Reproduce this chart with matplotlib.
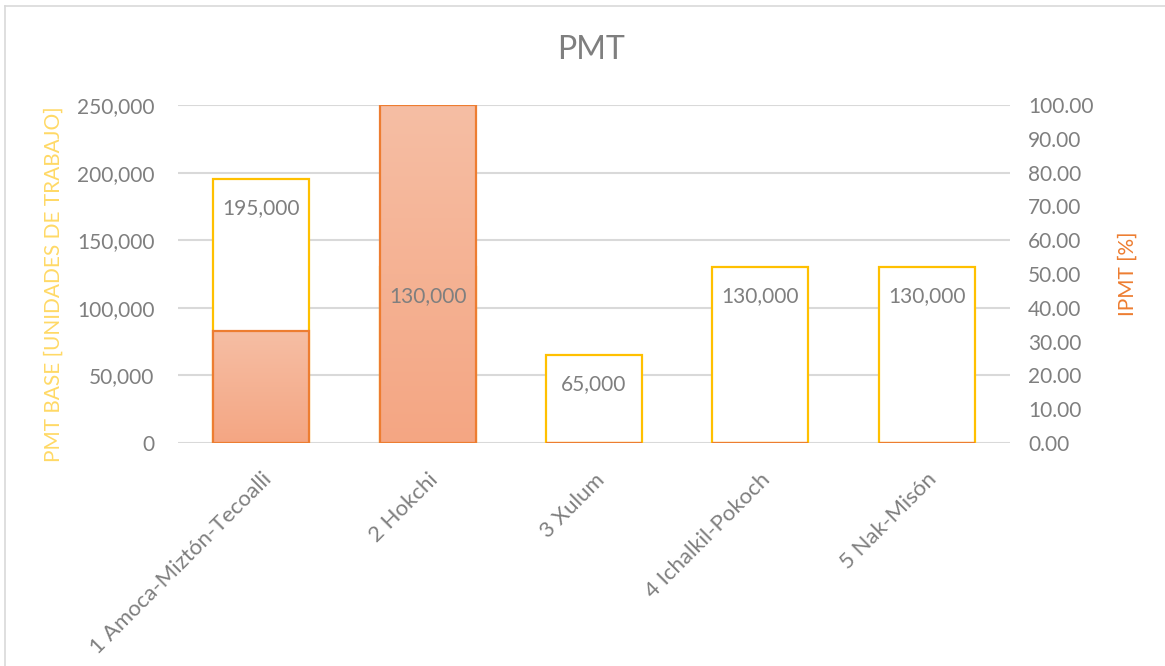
import numpy as np
import matplotlib.pyplot as plt
from matplotlib.colors import LinearSegmentedColormap
from matplotlib.lines import Line2D
from matplotlib.ticker import FuncFormatter

categories = ["1 Amoca-Miztón-Tecoalli", "2 Hokchi", "3 Xulum",
              "4 Ichalkil-Pokoch", "5 Nak-Misón"]
pmt_base = [195000, 130000, 65000, 130000, 130000]
ipmt_pct = [33.0, 100.0, 0.0, 0.0, 0.0]

plt.rcParams["font.family"] = ["Lato", "DejaVu Sans"]
GRAY = "#7f7f7f"
YELLOW = "#ffc000"
ORANGE = "#ed7d31"

fig = plt.figure(figsize=(11.65, 6.66), dpi=100)
ax = fig.add_axes([178 / 1165, 1 - 443 / 666, (1010 - 178) / 1165, (443 - 105) / 666])
ax2 = ax.twinx()

x = np.arange(len(categories))
width = 0.577

# primary: PMT base, white bars with yellow outline
ax.bar(x, pmt_base, width=width, facecolor="white", edgecolor=YELLOW,
       linewidth=1.6, zorder=3)
ax.set_ylim(0, 250000)
ax.set_xlim(-0.5, len(categories) - 0.5)
ax.set_yticks(np.arange(0, 250001, 50000))
ax.yaxis.set_major_formatter(FuncFormatter(lambda v, p: f"{v:,.0f}"))
ax.grid(axis="y", color="#d9d9d9", linewidth=1.5, zorder=0)
ax.set_axisbelow(True)

# secondary: IPMT %, gradient orange bars
cmap = LinearSegmentedColormap.from_list("ipmt", ["#f4a683", "#f6bea4"])
grad = np.linspace(0, 1, 256).reshape(-1, 1)
bars = ax2.bar(x, ipmt_pct, width=width, facecolor="none", edgecolor=ORANGE,
               linewidth=1.6, zorder=4)
for rect, val in zip(bars, ipmt_pct):
    if val <= 0:
        continue
    x0 = rect.get_x()
    im = ax2.imshow(grad, cmap=cmap, aspect="auto", origin="lower",
                    extent=[x0, x0 + rect.get_width(), 0, val], zorder=3)
    im.set_clip_path(rect)
ax2.set_ylim(0, 100)
ax2.set_xlim(-0.5, len(categories) - 0.5)
ax2.set_yticks(np.arange(0, 101, 10))
ax2.yaxis.set_major_formatter(FuncFormatter(lambda v, p: f"{v:.2f}"))

for a in (ax, ax2):
    for s in a.spines.values():
        s.set_visible(False)
    a.tick_params(length=0, labelsize=15, labelcolor=GRAY)
ax.tick_params(axis="y", pad=17)
ax2.tick_params(axis="y", pad=13)

ax.set_xticks(x)
ax.set_xticklabels(categories, rotation=45, ha="right", rotation_mode="anchor",
                   fontsize=16)
ax.tick_params(axis="x", pad=19)

# data labels, inside end of the base bars
for xi, v in zip(x, pmt_base):
    ax2.annotate(f"{v:,.0f}", xy=(xi, v), xycoords=ax.transData,
                 xytext=(0, -29), textcoords="offset pixels",
                 ha="center", va="center", fontsize=15, color=GRAY, zorder=6)

ax.set_ylabel("PMT BASE [UNIDADES DE TRABAJO]", color="#ffd966", fontsize=15)
ax.yaxis.set_label_coords((64 - 178) / 832, 0.47)
ax2.set_ylabel("IPMT [%]", color=ORANGE, fontsize=15)
ax2.yaxis.set_label_coords((1118 - 178) / 832, 0.5)

fig.text(0.507, 1 - 50 / 666, "PMT", ha="center", va="center",
         fontsize=23, color=GRAY)

# chart area border (left and top only visible)
fig.add_artist(Line2D([5 / 1165, 5 / 1165], [0, 1 - 6 / 666],
                      transform=fig.transFigure, color="#d9d9d9", linewidth=1.2))
fig.add_artist(Line2D([5 / 1165, 1], [1 - 6 / 666, 1 - 6 / 666],
                      transform=fig.transFigure, color="#d9d9d9", linewidth=1.2))

fig.savefig("out.png", dpi=100, facecolor="white")
